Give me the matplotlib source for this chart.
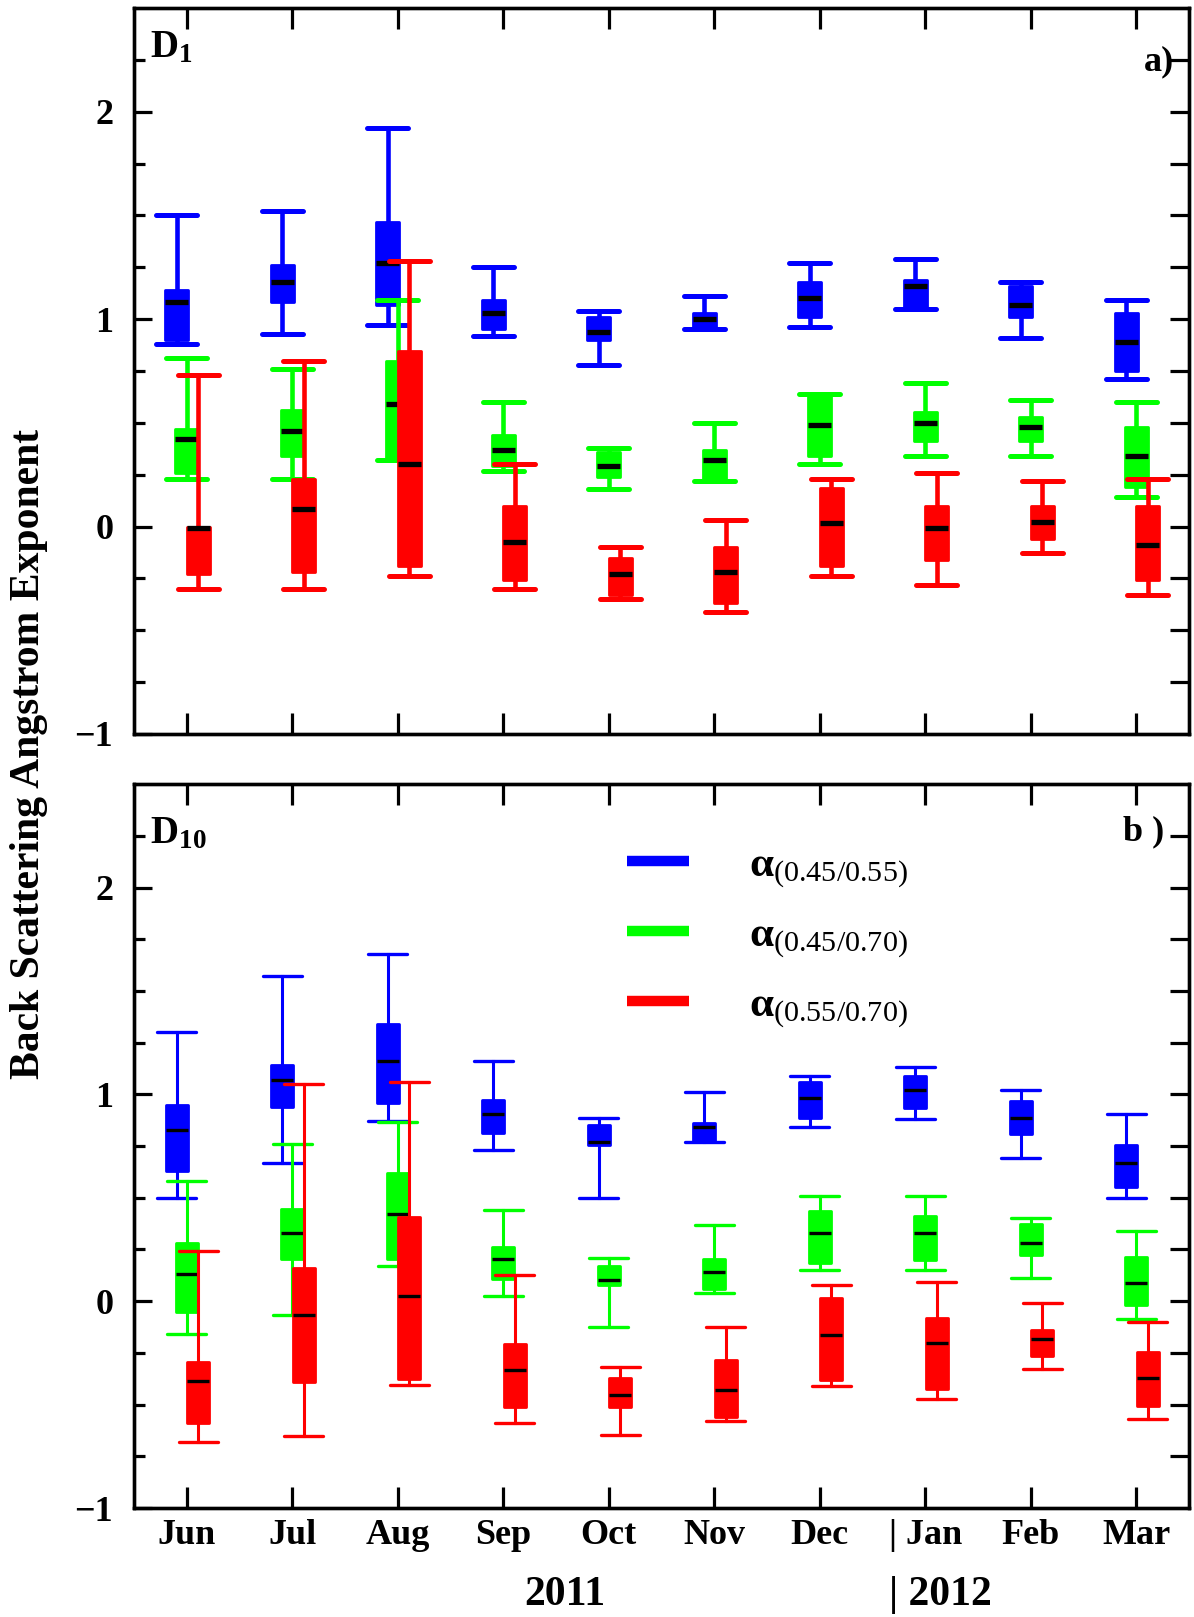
"""Back scattering Angstrom exponent, monthly box plots for D1 and D10."""

import matplotlib

matplotlib.use("Agg")
import matplotlib.pyplot as plt
import numpy as np
from matplotlib.lines import Line2D
from matplotlib.transforms import blended_transform_factory

OUTPUT_PLOT = "out.png"

MONTHS = ["Jun", "Jul", "Aug", "Sep", "Oct", "Nov", "Dec", "| Jan", "Feb", "Mar"]
SERIES_LABELS = [
    r"$\mathbf{α}_{(0.45/0.55)}$",
    r"$\mathbf{α}_{(0.45/0.70)}$",
    r"$\mathbf{α}_{(0.55/0.70)}$",
]

# each row: [lower whisker, q1, median, q3, upper whisker]
D1_A045_055 = [
    [0.88, 0.90, 1.08, 1.14, 1.50],
    [0.93, 1.08, 1.18, 1.26, 1.52],
    [0.97, 1.07, 1.27, 1.47, 1.92],
    [0.92, 0.95, 1.03, 1.09, 1.25],
    [0.78, 0.90, 0.94, 1.01, 1.04],
    [0.95, 0.96, 1.00, 1.03, 1.11],
    [0.96, 1.01, 1.10, 1.18, 1.27],
    [1.05, 1.06, 1.16, 1.19, 1.29],
    [0.91, 1.01, 1.07, 1.16, 1.18],
    [0.71, 0.75, 0.89, 1.03, 1.09],
]
D1_A045_070 = [
    [0.23, 0.26, 0.42, 0.47, 0.81],
    [0.23, 0.34, 0.46, 0.56, 0.76],
    [0.32, 0.33, 0.59, 0.80, 1.09],
    [0.27, 0.29, 0.37, 0.44, 0.60],
    [0.18, 0.24, 0.29, 0.36, 0.38],
    [0.22, 0.23, 0.32, 0.37, 0.50],
    [0.30, 0.34, 0.49, 0.63, 0.64],
    [0.34, 0.41, 0.50, 0.55, 0.69],
    [0.34, 0.41, 0.48, 0.53, 0.61],
    [0.14, 0.19, 0.34, 0.48, 0.60],
]
D1_A055_070 = [
    [-0.30, -0.23, -0.005, 0.00, 0.73],
    [-0.30, -0.22, 0.086, 0.23, 0.80],
    [-0.24, -0.19, 0.30, 0.845, 1.28],
    [-0.30, -0.26, -0.077, 0.10, 0.30],
    [-0.35, -0.33, -0.23, -0.15, -0.10],
    [-0.41, -0.37, -0.22, -0.10, 0.03],
    [-0.24, -0.19, 0.016, 0.185, 0.23],
    [-0.28, -0.16, -0.007, 0.10, 0.26],
    [-0.13, -0.06, 0.023, 0.10, 0.22],
    [-0.33, -0.26, -0.09, 0.10, 0.23],
]

D10_A045_055 = [
    [0.50, 0.63, 0.83, 0.95, 1.30],
    [0.67, 0.94, 1.07, 1.14, 1.57],
    [0.87, 0.96, 1.16, 1.34, 1.68],
    [0.73, 0.815, 0.905, 0.975, 1.16],
    [0.50, 0.755, 0.77, 0.85, 0.885],
    [0.77, 0.775, 0.84, 0.86, 1.01],
    [0.84, 0.885, 0.98, 1.06, 1.09],
    [0.88, 0.935, 1.02, 1.09, 1.13],
    [0.69, 0.81, 0.885, 0.97, 1.02],
    [0.50, 0.55, 0.67, 0.755, 0.905],
]
D10_A045_070 = [
    [-0.16, -0.05, 0.13, 0.28, 0.58],
    [-0.065, 0.205, 0.33, 0.445, 0.76],
    [0.17, 0.205, 0.42, 0.62, 0.865],
    [0.025, 0.105, 0.205, 0.26, 0.44],
    [-0.125, 0.08, 0.10, 0.17, 0.21],
    [0.04, 0.06, 0.14, 0.205, 0.37],
    [0.15, 0.185, 0.33, 0.435, 0.51],
    [0.15, 0.20, 0.33, 0.41, 0.51],
    [0.11, 0.225, 0.28, 0.375, 0.40],
    [-0.085, -0.02, 0.09, 0.215, 0.34],
]
D10_A055_070 = [
    [-0.68, -0.59, -0.385, -0.295, 0.245],
    [-0.65, -0.39, -0.065, 0.16, 1.05],
    [-0.405, -0.375, 0.025, 0.405, 1.06],
    [-0.59, -0.51, -0.335, -0.205, 0.125],
    [-0.645, -0.51, -0.455, -0.37, -0.32],
    [-0.58, -0.56, -0.43, -0.285, -0.125],
    [-0.41, -0.38, -0.165, 0.015, 0.08],
    [-0.475, -0.425, -0.20, -0.08, 0.095],
    [-0.33, -0.265, -0.185, -0.14, -0.01],
    [-0.57, -0.505, -0.37, -0.245, -0.10],
]

COLORS = ["#0000ff", "#00ff00", "#ff0000"]
OFFSETS = [-0.095, 0.0, 0.11]

plt.rcParams["font.family"] = ["Liberation Serif", "DejaVu Serif"]
plt.rcParams["font.weight"] = "bold"
plt.rcParams["mathtext.fontset"] = "custom"
plt.rcParams["mathtext.rm"] = "Liberation Serif:weight=normal"
plt.rcParams["mathtext.it"] = "Liberation Serif:italic"
plt.rcParams["mathtext.bf"] = "Liberation Serif:bold"


def to_stats(rows):
    return [
        dict(whislo=r[0], q1=r[1], med=r[2], q3=r[3], whishi=r[4])
        for r in rows
    ]


def draw_boxes(ax, series, lw):
    x = np.arange(len(MONTHS))
    for z, (rows, color, off) in enumerate(zip(series, COLORS, OFFSETS)):
        ax.bxp(
            to_stats(rows),
            positions=x + off,
            widths=lw["box"],
            capwidths=lw["cap"],
            patch_artist=True,
            showfliers=False,
            manage_ticks=False,
            boxprops=dict(facecolor=color, edgecolor=color,
                          linewidth=2.0, joinstyle="round"),
            whiskerprops=dict(color=color, linewidth=lw["whisker"]),
            capprops=dict(color=color, linewidth=lw["capline"],
                          solid_capstyle="round"),
            medianprops=dict(color="black", linewidth=lw["median"]),
            zorder=3 + z,
        )


def style_axes(ax):
    ax.set_xlim(-0.5, 9.5)
    ax.set_ylim(-1, 2.5)
    for s in ax.spines.values():
        s.set_linewidth(2.4)
    ax.set_xticks(np.arange(len(MONTHS)))
    ax.set_yticks([-1, 0, 1, 2])
    ax.set_yticks(np.arange(-0.75, 2.5, 0.25), minor=True)
    ax.tick_params(axis="x", which="both", direction="in", top=True,
                   length=15, width=2.3, labelsize=26, pad=8)
    ax.tick_params(axis="y", which="major", direction="in", right=False,
                   length=13, width=2.3, labelsize=26, pad=15)
    ax.tick_params(axis="y", which="minor", direction="in", right=False,
                   length=8, width=2.3)
    # right-hand ticks are all long
    ax2 = ax.twinx()
    ax2.set_ylim(ax.get_ylim())
    ax2.set_yticks(np.arange(-0.75, 2.5, 0.25))
    ax2.tick_params(axis="y", direction="in", length=13.5, width=2.3,
                    labelright=False)
    for s in ax2.spines.values():
        s.set_linewidth(2.4)


def main() -> None:
    fig = plt.figure(figsize=(11.94, 16.17), dpi=100)
    ax_a = fig.add_axes([0.1122, 0.5461, 0.8836, 0.4490])
    ax_b = fig.add_axes([0.1122, 0.0674, 0.8836, 0.4477])

    thick = dict(box=0.215, cap=0.39, whisker=3.3, capline=3.6, median=3.8)
    thin = dict(box=0.21, cap=0.37, whisker=2.2, capline=2.4, median=2.4)

    draw_boxes(ax_a, [D1_A045_055, D1_A045_070, D1_A055_070], thick)
    draw_boxes(ax_b, [D10_A045_055, D10_A045_070, D10_A055_070], thin)

    style_axes(ax_a)
    style_axes(ax_b)
    ax_a.set_xticklabels([])
    ax_b.set_xticklabels(MONTHS)

    tr_a = blended_transform_factory(ax_a.transAxes, ax_a.transData)
    tr_b = blended_transform_factory(ax_b.transAxes, ax_b.transData)
    ax_a.text(0.015, 2.31, r"$\mathbf{D_{1}}$", fontsize=28, va="center",
              transform=tr_a)
    ax_b.text(0.015, 2.26, r"$\mathbf{D_{10}}$", fontsize=28, va="center",
              transform=tr_b)
    ax_a.text(0.986, 2.24, "a)", fontsize=26, ha="right", va="center",
              transform=tr_a)
    ax_b.text(0.977, 2.27, "b )", fontsize=26, ha="right", va="center",
              transform=tr_b)

    handles = [Line2D([], [], color=c, linewidth=7.5, solid_capstyle="butt")
               for c in COLORS]
    ax_b.legend(handles, SERIES_LABELS, loc="upper left",
                bbox_to_anchor=(0.467, 0.915), frameon=False, fontsize=31,
                handlelength=1.45, handletextpad=1.4, labelspacing=0.6,
                borderpad=0, borderaxespad=0)

    year_tr = blended_transform_factory(ax_b.transData, ax_b.transAxes)
    ax_b.text(3.58, -0.12, "2011", fontsize=30, ha="center", va="center",
              transform=year_tr)
    ax_b.text(6.66, -0.12, "| 2012", fontsize=30, ha="left", va="center",
              transform=year_tr)

    fig.text(0.024, 0.534, "Back Scattering Angstrom Exponent", fontsize=30,
             rotation=90, ha="center", va="center")

    fig.savefig(OUTPUT_PLOT, dpi=100)
    plt.close(fig)


if __name__ == "__main__":
    main()
